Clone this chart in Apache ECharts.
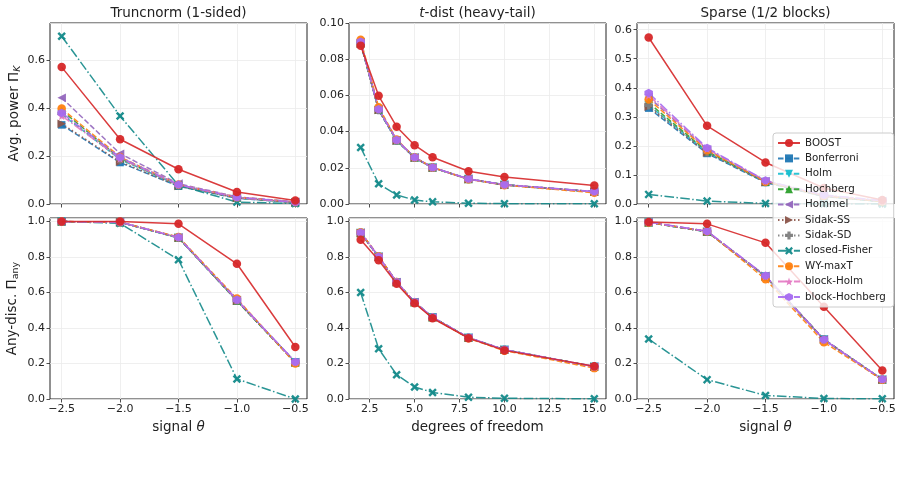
<!DOCTYPE html>
<html>
<head>
<meta charset="utf-8">
<script src="https://cdn.jsdelivr.net/npm/echarts@6.0.0/dist/echarts.min.js"></script>
<style>
  html, body { margin: 0; padding: 0; background: #fff; }
  #chart { width: 901px; height: 502px; }
</style>
</head>
<body>
<div id="chart"></div>
<script>
// methods, in legend order
const methods = ['BOOST', 'Bonferroni', 'Holm', 'Hochberg', 'Hommel', 'Sidak-SS',
  'Sidak-SD', 'closed-Fisher', 'WY-maxT', 'block-Holm', 'block-Hochberg'];

// x values
const thetaValues = [-2.5, -2.0, -1.5, -1.0, -0.5];
const dfValues = [2, 3, 4, 5, 6, 8, 10, 15];

// tick labels
const thetaTicks = [-2.5, -2.0, -1.5, -1.0, -0.5];
const dfTicks = [2.5, 5.0, 7.5, 10.0, 12.5, 15.0];

// one row per method (same order as methods)
const truncPower = [
  [0.571, 0.270, 0.145, 0.050, 0.015],
  [0.330, 0.173, 0.074, 0.024, 0.006],
  [0.375, 0.186, 0.078, 0.026, 0.007],
  [0.390, 0.190, 0.079, 0.027, 0.007],
  [0.443, 0.210, 0.085, 0.030, 0.009],
  [0.335, 0.176, 0.075, 0.025, 0.006],
  [0.378, 0.187, 0.078, 0.026, 0.007],
  [0.700, 0.367, 0.078, 0.008, 0.002],
  [0.398, 0.196, 0.081, 0.028, 0.008],
  [0.368, 0.190, 0.080, 0.027, 0.007],
  [0.380, 0.195, 0.081, 0.028, 0.008],
];
const tdistPower = [
  [0.0875, 0.0598, 0.0427, 0.0325, 0.0258, 0.0181, 0.0149, 0.0102],
  [0.0885, 0.0518, 0.0350, 0.0255, 0.0200, 0.0137, 0.0105, 0.0067],
  [0.0888, 0.0520, 0.0351, 0.0256, 0.0201, 0.0138, 0.0106, 0.0068],
  [0.0890, 0.0522, 0.0352, 0.0257, 0.0201, 0.0138, 0.0106, 0.0068],
  [0.0895, 0.0525, 0.0354, 0.0258, 0.0202, 0.0139, 0.0107, 0.0068],
  [0.0886, 0.0519, 0.0350, 0.0255, 0.0200, 0.0137, 0.0105, 0.0067],
  [0.0889, 0.0520, 0.0351, 0.0256, 0.0201, 0.0138, 0.0106, 0.0068],
  [0.0312, 0.0112, 0.0050, 0.0022, 0.0012, 0.0004, 0.0002, 0.0001],
  [0.0908, 0.0535, 0.0357, 0.0258, 0.0202, 0.0137, 0.0104, 0.0062],
  [0.0893, 0.0522, 0.0353, 0.0257, 0.0201, 0.0138, 0.0106, 0.0068],
  [0.0897, 0.0524, 0.0354, 0.0258, 0.0202, 0.0139, 0.0107, 0.0069],
];
const sparsePower = [
  [0.573, 0.269, 0.143, 0.055, 0.014],
  [0.330, 0.174, 0.074, 0.026, 0.008],
  [0.340, 0.178, 0.076, 0.027, 0.008],
  [0.348, 0.181, 0.077, 0.028, 0.009],
  [0.368, 0.188, 0.079, 0.029, 0.010],
  [0.335, 0.176, 0.075, 0.026, 0.008],
  [0.340, 0.178, 0.076, 0.027, 0.008],
  [0.033, 0.010, 0.002, 0.0005, 0.0001],
  [0.360, 0.185, 0.077, 0.028, 0.009],
  [0.374, 0.190, 0.080, 0.030, 0.011],
  [0.382, 0.193, 0.081, 0.031, 0.012],
];
const truncAny = [
  [1.000, 1.000, 0.987, 0.762, 0.293],
  [1.000, 0.996, 0.908, 0.553, 0.206],
  [1.000, 0.996, 0.909, 0.555, 0.207],
  [1.000, 0.996, 0.909, 0.553, 0.206],
  [1.000, 0.997, 0.911, 0.558, 0.208],
  [1.000, 0.996, 0.908, 0.554, 0.206],
  [1.000, 0.996, 0.909, 0.555, 0.207],
  [1.000, 0.990, 0.785, 0.113, 0.000],
  [1.000, 0.997, 0.913, 0.566, 0.200],
  [1.000, 0.996, 0.910, 0.557, 0.208],
  [1.000, 0.997, 0.911, 0.560, 0.209],
];
const tdistAny = [
  [0.897, 0.782, 0.650, 0.540, 0.455, 0.343, 0.274, 0.184],
  [0.935, 0.800, 0.658, 0.545, 0.460, 0.345, 0.277, 0.182],
  [0.936, 0.801, 0.658, 0.545, 0.460, 0.345, 0.277, 0.182],
  [0.936, 0.801, 0.659, 0.545, 0.460, 0.345, 0.277, 0.182],
  [0.938, 0.803, 0.660, 0.546, 0.461, 0.346, 0.278, 0.183],
  [0.935, 0.800, 0.658, 0.545, 0.460, 0.345, 0.277, 0.182],
  [0.936, 0.801, 0.658, 0.545, 0.460, 0.345, 0.277, 0.182],
  [0.600, 0.283, 0.137, 0.068, 0.037, 0.010, 0.004, 0.001],
  [0.940, 0.805, 0.660, 0.544, 0.458, 0.342, 0.272, 0.174],
  [0.937, 0.802, 0.659, 0.545, 0.460, 0.345, 0.277, 0.182],
  [0.938, 0.803, 0.660, 0.546, 0.461, 0.346, 0.278, 0.183],
];
const sparseAny = [
  [0.998, 0.987, 0.880, 0.520, 0.161],
  [0.995, 0.942, 0.690, 0.335, 0.109],
  [0.995, 0.943, 0.691, 0.335, 0.109],
  [0.995, 0.943, 0.692, 0.336, 0.110],
  [0.996, 0.945, 0.694, 0.337, 0.110],
  [0.995, 0.942, 0.690, 0.335, 0.109],
  [0.995, 0.943, 0.691, 0.335, 0.109],
  [0.338, 0.109, 0.020, 0.003, 0.001],
  [0.995, 0.945, 0.675, 0.320, 0.108],
  [0.996, 0.945, 0.693, 0.334, 0.110],
  [0.997, 0.946, 0.695, 0.334, 0.111],
];

// line / marker styles per method
const DASH = [5.5, 2.4];
const DOT = [1.5, 2.5];
const DASHDOT = [9.6, 2.4, 1.5, 2.4];
const PLUS = 'path://M3,0H7V3H10V7H7V10H3V7H0V3H3Z';
const XMARK = 'path://M2,0L5,3L8,0L10,2L7,5L10,8L8,10L5,7L2,10L0,8L3,5L0,2Z';
const STAR = 'path://M50,0L61.8,35.1L98.1,34.5L68.9,56.7L79.4,90.5L50,70L20.6,90.5L31.1,56.7L1.9,34.5L38.2,35.1Z';
const HEX = 'path://M50,0L93.3,25L93.3,75L50,100L6.7,75L6.7,25Z';
const styles = [
  { color: '#d62728', dash: 'solid', symbol: 'circle', size: 8.5 },
  { color: '#1f77b4', dash: DASH, symbol: 'rect', size: 7.5 },
  { color: '#17becf', dash: DASH, symbol: 'path://M0,0L10,0L5,9Z', size: 8.5 },
  { color: '#2ca02c', dash: DASH, symbol: 'path://M5,0L10,9L0,9Z', size: 8.5 },
  { color: '#9467bd', dash: DASH, symbol: 'path://M9,0L9,10L0,5Z', size: 8.5 },
  { color: '#8c564b', dash: DOT, symbol: 'path://M0,0L9,5L0,10Z', size: 8.5 },
  { color: '#7f7f7f', dash: DOT, symbol: PLUS, size: 8.5 },
  { color: '#138a8a', dash: DASHDOT, symbol: XMARK, size: 8.5 },
  { color: '#ff7f0e', dash: DASH, symbol: 'circle', size: 8.5 },
  { color: '#e377c2', dash: DASHDOT, symbol: STAR, size: 9 },
  { color: '#a66cf0', dash: DASHDOT, symbol: HEX, size: 8.5 },
];

const FONT = 'DejaVu Sans';
const INK = '#222';
const minus = (s) => s.replace('-', '\u2212');

const lefts = [50, 349, 637];
const tops = [23, 218];
const W = 257, H = 181;

const panels = [
  { x: thetaValues, rows: truncPower, ticks: thetaTicks, xr: [-2.6, -0.4], ymax: 0.755, yint: 0.2, ydec: 1 },
  { x: dfValues, rows: tdistPower, ticks: dfTicks, xr: [1.35, 15.65], ymax: 0.1, yint: 0.02, ydec: 2 },
  { x: thetaValues, rows: sparsePower, ticks: thetaTicks, xr: [-2.6, -0.4], ymax: 0.623, yint: 0.1, ydec: 1 },
  { x: thetaValues, rows: truncAny, ticks: thetaTicks, xr: [-2.6, -0.4], ymax: 1.02, yint: 0.2, ydec: 1 },
  { x: dfValues, rows: tdistAny, ticks: dfTicks, xr: [1.35, 15.65], ymax: 1.02, yint: 0.2, ydec: 1 },
  { x: thetaValues, rows: sparseAny, ticks: thetaTicks, xr: [-2.6, -0.4], ymax: 1.02, yint: 0.2, ydec: 1 },
];

const grids = [], xAxes = [], yAxes = [], series = [];
const tickStyle = { show: true, inside: false, length: 3.5, lineStyle: { color: INK, width: 0.8 } };
const gridLine = { show: true, lineStyle: { color: '#ebebeb', width: 0.8 } };
const labelStyle = { color: INK, fontFamily: FONT, fontSize: 11 };

panels.forEach((p, i) => {
  const row = Math.floor(i / 3), col = i % 3;
  grids.push({
    left: lefts[col], top: tops[row], width: W, height: H,
    show: true, borderColor: INK, borderWidth: 1, backgroundColor: 'transparent',
  });
  const xName = row === 1 ? (col === 1 ? 'degrees of freedom' : 'signal {i|θ}') : '';
  xAxes.push({
    type: 'value', gridIndex: i, min: p.xr[0], max: p.xr[1],
    axisLine: { show: false },
    axisTick: Object.assign({ customValues: p.ticks }, tickStyle),
    axisLabel: Object.assign({
      show: row === 1, customValues: p.ticks, margin: 5,
      formatter: (v) => minus(v.toFixed(1)),
    }, labelStyle),
    splitLine: gridLine,
    name: xName, nameLocation: 'middle', nameGap: 21,
    nameTextStyle: {
      color: INK, fontFamily: FONT, fontSize: 13.5,
      rich: { i: { fontStyle: 'italic', fontFamily: FONT, fontSize: 13.5, color: INK } },
    },
  });
  let yName = '';
  if (col === 0) yName = row === 0 ? 'Avg. power Π{sub|K}' : 'Any-disc. Π{sub2|any}';
  yAxes.push({
    type: 'value', gridIndex: i, min: 0, max: p.ymax, interval: p.yint,
    axisLine: { show: false },
    axisTick: tickStyle,
    axisLabel: Object.assign({
      margin: 5, showMaxLabel: p.ymax === 0.1,
      formatter: (v) => v.toFixed(p.ydec),
    }, labelStyle),
    splitLine: gridLine,
    name: yName, nameLocation: 'middle', nameGap: row === 0 ? 27 : 29,
    nameTextStyle: {
      color: INK, fontFamily: FONT, fontSize: 13.5, lineHeight: 17,
      rich: {
        sub: { fontStyle: 'italic', fontFamily: FONT, fontSize: 9.5, color: INK, verticalAlign: 'bottom', lineHeight: 10 },
        sub2: { fontFamily: FONT, fontSize: 9.5, color: INK, verticalAlign: 'bottom', lineHeight: 10 },
      },
    },
  });
  methods.forEach((name, m) => {
    const st = styles[m];
    series.push({
      type: 'line', name, xAxisIndex: i, yAxisIndex: i,
      data: p.x.map((x, k) => [x, p.rows[m][k]]),
      symbol: st.symbol, symbolSize: st.size, showSymbol: true,
      lineStyle: { color: st.color, width: 1.5, type: st.dash, opacity: 0.9 },
      itemStyle: { color: st.color, opacity: 0.95 },
      z: m === 0 ? 3 : 2,
      emphasis: { disabled: true },
      silent: true,
    });
  });
});

const titleStyle = { color: INK, fontFamily: FONT, fontSize: 13.5, fontWeight: 'normal' };
const titles = [
  { text: 'Truncnorm (1-sided)', left: lefts[0] + W / 2 },
  { text: '{i|t}-dist (heavy-tail)', left: lefts[1] + W / 2 },
  { text: 'Sparse (1/2 blocks)', left: lefts[2] + W / 2 },
].map((t) => Object.assign(t, {
  top: 6, textAlign: 'center', padding: 0,
  textStyle: Object.assign({ rich: { i: Object.assign({ fontStyle: 'italic' }, titleStyle) } }, titleStyle),
}));

const chart = echarts.init(document.getElementById('chart'), null, { renderer: 'canvas' });
chart.setOption({
  backgroundColor: '#fff',
  animation: false,
  title: titles,
  legend: {
    data: methods, orient: 'vertical', left: 773, top: 133,
    itemWidth: 22, itemHeight: 10, itemGap: 5.4,
    padding: [5, 8, 5, 4],
    backgroundColor: 'rgba(255,255,255,0.8)', borderColor: '#cccccc', borderWidth: 1, borderRadius: 3,
    textStyle: { color: INK, fontFamily: FONT, fontSize: 10.3, lineHeight: 10 },
    selectedMode: false,
  },
  grid: grids,
  xAxis: xAxes,
  yAxis: yAxes,
  series,
});
</script>
</body>
</html>
